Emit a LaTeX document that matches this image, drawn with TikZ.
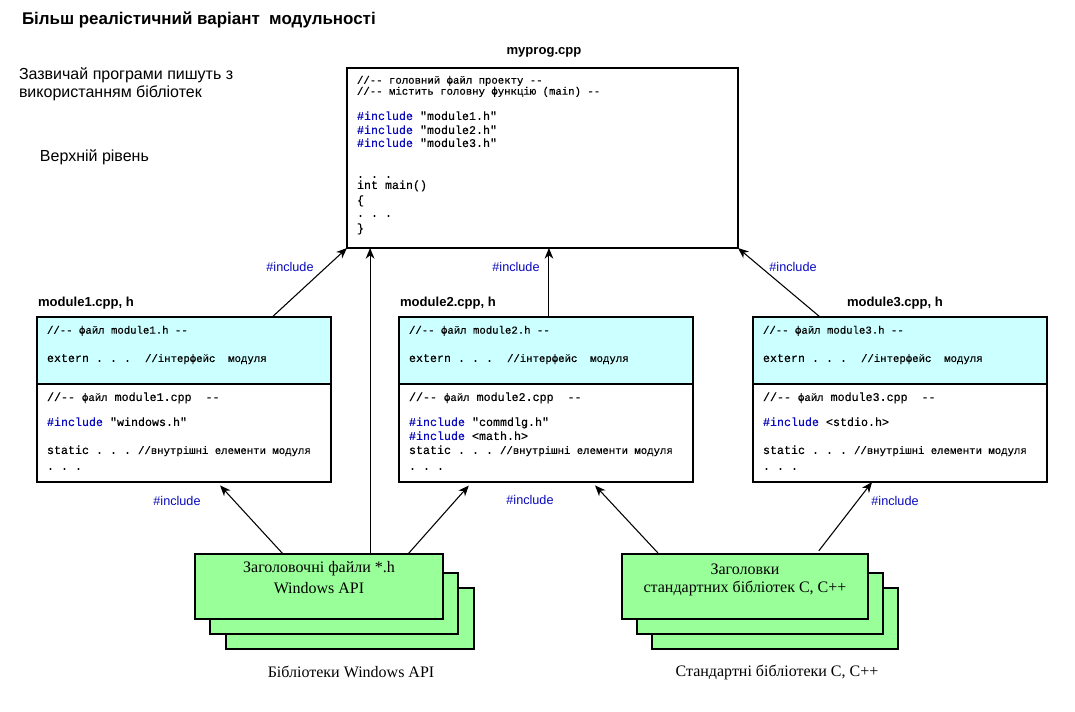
\documentclass[tikz,border=0pt]{standalone}
\usepackage{fontspec}
\setmainfont{Liberation Serif}
\setsansfont{Liberation Sans}
\setmonofont[FakeBold=0.35]{Liberation Mono}
\usetikzlibrary{arrows.meta,calc}

\definecolor{incblue}{RGB}{10,10,190}
\definecolor{hdrcyan}{RGB}{204,255,255}
\definecolor{libgreen}{RGB}{153,255,153}

% one module: header part (cyan) and implementation part (white)
% #1 name prefix, #2 left edge, #3 module number, #4 first include line
\newcommand\modulebox[4]{%
  \node[frame, fill=hdrcyan, anchor=north west, minimum width=220.5pt, minimum height=50.25pt] (#1h) at (#2,317) {};
  \node[frame, fill=white, anchor=north west, minimum width=220.5pt, minimum height=73.5pt] (#1c) at (#2,384) {};
  \node[note] (#1ha) at ({#2+10},331) {//-{}- файл module#3.h -{}-};
  \node[code] (#1hb) at ({#2+10},359) {extern . . .\ \ {\notefont //інтерфейс\ \ модуля}};
  \node[code] (#1ca) at ({#2+10},398) {//-{}- {\notefont файл} module#3.cpp\ \ -{}-};
  \node[code] (#1cb) at ({#2+10},423) {#4};
  \node[code] (#1cc) at ({#2+10},451) {static . . . {\notefont //внутрішні елементи модуля}};
  \node[code] (#1cd) at ({#2+10},467) {. . .};
}
\newcommand\notefont{\fontsize{8}{9}\selectfont}
\newcommand\inc{\textcolor{incblue}{\#include}}

\begin{document}
\begin{tikzpicture}[x=0.75pt,y=-0.75pt,
  every node/.style={inner sep=0pt, outer sep=0pt},
  frame/.style={draw=black, line width=0.8pt},
  code/.style={anchor=west, font=\fontsize{8.75}{10}\ttfamily, text height=6pt, text depth=1.6pt},
  note/.style={anchor=west, font=\fontsize{8}{9}\ttfamily, text height=5.5pt, text depth=1.5pt},
  lbl/.style={font=\fontsize{9.5}{11}\sffamily, text=incblue},
  filehead/.style={font=\fontsize{9.8}{11}\sffamily\bfseries},
  plain/.style={font=\fontsize{12}{14}\sffamily},
  lib/.style={frame, fill=libgreen, anchor=north west},
  libtext/.style={font=\fontsize{12}{14}\rmfamily},
  arr/.style={-{Stealth[length=8pt,width=6.5pt,inset=2.5pt]}, line width=0.8pt}]

\fill[white] (0,0) rectangle (1075,711);
\useasboundingbox (0,0) rectangle (1075,711);

% headings and remarks
\node[anchor=west, font=\fontsize{12.7}{14}\sffamily\bfseries] (title) at (22,20) {Більш реалістичний варіант\ \ модульності};
\node[plain, anchor=west] (intro1) at (19,75) {Зазвичай програми пишуть з};
\node[plain, anchor=west] (intro2) at (19,93) {використанням бібліотек};
\node[plain, anchor=west] (level) at (40,157) {Верхній рівень};

% main file
\node[filehead] (mainname) at (544,52) {myprog.cpp};
\node[frame, fill=white, anchor=north west, minimum width=293.25pt, minimum height=135pt] (main) at (347,68) {};
\node[note] (ml1) at (357,81) {//-{}- головний файл проекту -{}-};
\node[note] (ml2) at (357,92) {//-{}- містить головну функцію (main) -{}-};
\node[code] (ml3) at (357,117) {\inc{} "module1.h"};
\node[code] (ml4) at (357,131) {\inc{} "module2.h"};
\node[code] (ml5) at (357,144) {\inc{} "module3.h"};
\node[code] (ml6) at (357,175) {. . .};
\node[code] (ml7) at (357,186) {int main()};
\node[code] (ml8) at (357,201) {\{};
\node[code] (ml9) at (357,214) {. . .};
\node[code] (ml10) at (357,229) {\}};

% modules
\node[filehead] (m1name) at (86,303) {module1.cpp, h};
\node[filehead] (m2name) at (448,303) {module2.cpp, h};
\node[filehead] (m3name) at (895,303) {module3.cpp, h};
\modulebox{m1}{37}{1}{\inc{} "windows.h"}
\modulebox{m2}{399}{2}{\inc{} "commdlg.h"}
\node[code] (m2cb2) at (409,437) {\inc{} <math.h>};
\modulebox{m3}{753}{3}{\inc{} <stdio.h>}

% library stacks
\node[lib, minimum width=186pt, minimum height=45.75pt] (win3) at (226,588) {};
\node[lib, minimum width=186pt, minimum height=45.75pt] (win2) at (210,573) {};
\node[lib, minimum width=186pt, minimum height=48.75pt] (win1) at (195,554) {};
\node[libtext] (winl1) at (319,569) {Заголовочні файли *.h};
\node[libtext] (winl2) at (319,588) {Windows API};
\node[libtext] (wincap) at (351,672) {Бібліотеки Windows API};

\node[lib, minimum width=184.5pt, minimum height=45.75pt] (std3) at (652,588) {};
\node[lib, minimum width=184.5pt, minimum height=45.75pt] (std2) at (637,573) {};
\node[lib, minimum width=184.5pt, minimum height=48.75pt] (std1) at (622,554) {};
\node[libtext] (stdl1) at (745,569) {Заголовки};
\node[libtext] (stdl2) at (745,588) {стандартних бібліотек С, С++};
\node[libtext] (stdcap) at (777,672) {Стандартні бібліотеки С, С++};

% include relations towards the main file
\draw[arr] ($(m1h.north west)!0.8!(m1h.north east)$) -- (main.south west);
\draw[arr] ($(m2h.north west)!0.51!(m2h.north east)$) coordinate (m2top) -- (m2top |- main.south);
\draw[arr] ($(m3h.north west)!0.228!(m3h.north east)$) -- (main.south east);
\draw[arr] ($(win1.north west)!0.706!(win1.north east)$) coordinate (wintop) -- (wintop |- main.south);

% include relations towards the modules
\draw[arr, shorten >=3.5pt] ($(win1.north west)!0.355!(win1.north east)$) -- ($(m1c.south west)!0.612!(m1c.south east)$);
\draw[arr, shorten >=3.5pt] ($(win1.north west)!0.859!(win1.north east)$) -- ($(m2c.south west)!0.248!(m2c.south east)$);
\draw[arr, shorten >=3.5pt] ($(std1.north west)!0.15!(std1.north east)$) -- ($(m2c.south west)!0.656!(m2c.south east)$);
\draw[arr, shorten <=3pt] ($(std1.north west)!0.79!(std1.north east)$) -- ($(m3c.south west)!0.405!(m3c.south east)$);

\node[lbl] (inc1) at (290,267) {\#include};
\node[lbl] (inc2) at (516,267) {\#include};
\node[lbl] (inc3) at (793,267) {\#include};
\node[lbl] (inc4) at (177,501) {\#include};
\node[lbl] (inc5) at (530,500) {\#include};
\node[lbl] (inc6) at (895,501) {\#include};
\end{tikzpicture}
\end{document}
